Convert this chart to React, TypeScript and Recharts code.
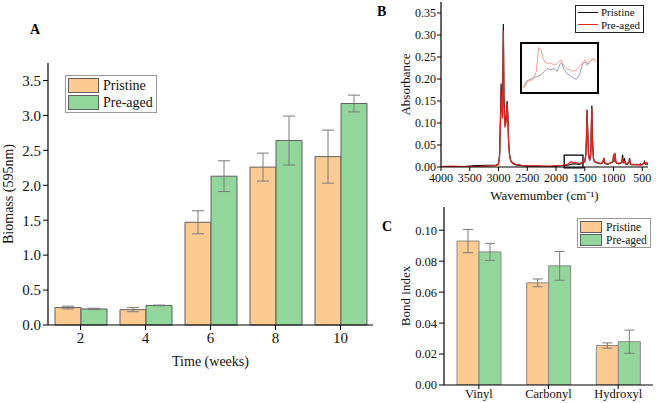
import React from 'react';
import {
  BarChart, Bar, XAxis, YAxis, ErrorBar, LineChart, Line, ReferenceArea,
} from 'recharts';

// ---------- Panel A: biomass ----------
const weeks = ['2', '4', '6', '8', '10'];
const biomassPristine = [0.25, 0.22, 1.47, 2.26, 2.41];
const biomassPristineErr = [0.02, 0.03, 0.165, 0.2, 0.38];
const biomassPreaged = [0.23, 0.28, 2.13, 2.64, 3.17];
const biomassPreagedErr = [0.01, 0.005, 0.22, 0.35, 0.12];
const biomassTicks = [0, 0.5, 1, 1.5, 2, 2.5, 3, 3.5];

// ---------- Panel B: FTIR spectra ----------
const wavenumbers = [4000, 3800, 3600, 3400, 3200, 3050, 3000, 2980, 2965, 2955, 2945, 2930, 2916, 2905, 2890, 2875, 2865, 2850, 2838, 2825, 2810, 2790, 2750, 2700, 2600, 2500, 2300, 2100, 2000, 1900, 1800, 1740, 1700, 1650, 1600, 1550, 1500, 1480, 1470, 1460, 1450, 1435, 1415, 1395, 1385, 1376, 1368, 1350, 1330, 1300, 1255, 1220, 1185, 1167, 1150, 1100, 1045, 1010, 997, 985, 973, 960, 940, 900, 870, 855, 841, 830, 808, 790, 760, 730, 720, 705, 650, 600, 560, 530, 500, 470, 460, 440, 420, 400];
const absPristine = [0.001, 0.001, 0.001, 0.003, 0.004, 0.004, 0.006, 0.03, 0.12, 0.19, 0.14, 0.12, 0.325, 0.16, 0.10, 0.10, 0.12, 0.15, 0.12, 0.06, 0.03, 0.015, 0.008, 0.005, 0.003, 0.002, 0.002, 0.001, 0.002, 0.003, 0.004, 0.006, 0.007, 0.007, 0.006, 0.008, 0.012, 0.03, 0.07, 0.13, 0.09, 0.03, 0.015, 0.03, 0.10, 0.14, 0.07, 0.02, 0.012, 0.01, 0.009, 0.007, 0.01, 0.02, 0.008, 0.006, 0.01, 0.012, 0.028, 0.012, 0.03, 0.012, 0.008, 0.007, 0.009, 0.012, 0.028, 0.01, 0.018, 0.007, 0.006, 0.012, 0.02, 0.006, 0.005, 0.006, 0.005, 0.007, 0.005, 0.01, 0.013, 0.006, 0.008, 0.005];
const absPreaged = [0.001, 0.002, 0.001, 0.001, 0.002, 0.003, 0.005, 0.025, 0.11, 0.175, 0.13, 0.11, 0.31, 0.15, 0.09, 0.095, 0.11, 0.145, 0.115, 0.06, 0.03, 0.015, 0.009, 0.006, 0.004, 0.003, 0.002, 0.002, 0.003, 0.004, 0.006, 0.012, 0.01, 0.01, 0.008, 0.01, 0.012, 0.028, 0.065, 0.128, 0.085, 0.03, 0.015, 0.028, 0.095, 0.133, 0.065, 0.02, 0.012, 0.011, 0.009, 0.008, 0.012, 0.021, 0.009, 0.007, 0.009, 0.012, 0.03, 0.013, 0.032, 0.013, 0.009, 0.009, 0.01, 0.012, 0.02, 0.009, 0.012, 0.007, 0.008, 0.011, 0.018, 0.006, 0.006, 0.005, 0.006, 0.004, 0.006, 0.008, 0.011, 0.007, 0.01, 0.006];
const spectrumTicks = [4000, 3500, 3000, 2500, 2000, 1500, 1000, 500];
const absTicks = [0, 0.05, 0.1, 0.15, 0.2, 0.25, 0.3, 0.35];

// inset (zoom of ~1850-1530 cm-1), relative units
const insetWavenumbers = [1843, 1830, 1823, 1816, 1802, 1789, 1782, 1779, 1768, 1761, 1755, 1752, 1741, 1727, 1714, 1700, 1687, 1684, 1680, 1673, 1659, 1632, 1618, 1605, 1591, 1580, 1571, 1557, 1544, 1534];
const insetPreaged = [0.08, null, 0.23, null, 0.26, 0.43, null, 0.93, 0.86, 0.72, null, 0.62, 0.59, 0.61, 0.56, 0.59, null, 0.67, null, 0.56, 0.49, 0.43, 0.46, 0.53, 0.62, 0.67, 0.59, 0.66, 0.69, 0.63];
const insetPristine = [0.10, 0.23, null, 0.26, 0.30, null, 0.33, null, 0.36, null, 0.43, null, 0.49, 0.46, 0.49, 0.43, 0.59, null, 0.62, 0.49, 0.39, 0.30, 0.26, 0.36, 0.59, 0.62, 0.56, 0.66, 0.69, 0.63];

// ---------- Panel C: bond index ----------
const bonds = ['Vinyl', 'Carbonyl', 'Hydroxyl'];
const bondPristine = [0.093, 0.066, 0.0255];
const bondPristineErr = [0.0075, 0.0025, 0.0017];
const bondPreaged = [0.086, 0.077, 0.028];
const bondPreagedErr = [0.0055, 0.0093, 0.0075];
const bondTicks = [0, 0.02, 0.04, 0.06, 0.08, 0.1];

const seriesNames = ['Pristine', 'Pre-aged'];

const biomassData = weeks.map((w, i) => ({
  week: w, p: biomassPristine[i], pe: biomassPristineErr[i], g: biomassPreaged[i], ge: biomassPreagedErr[i],
}));
const bondData = bonds.map((b, i) => ({
  bond: b, p: bondPristine[i], pe: bondPristineErr[i], g: bondPreaged[i], ge: bondPreagedErr[i],
}));
const spectrumData = wavenumbers.map((w, i) => ({ wn: w, p: absPristine[i], g: absPreaged[i] }));
const insetData = insetWavenumbers.map((w, i) => ({ wn: w, p: insetPristine[i], g: insetPreaged[i] }));

const FONT = '"Liberation Serif", "Times New Roman", serif';
const ORANGE = '#FDCA92';
const GREEN = '#93D69B';
const BAR_STROKE = '#5f5f5f';
const ERR = '#7a7a7a';
const RED = '#E8231C';

const axisLine = { stroke: '#000', strokeWidth: 1.2 };
const tickLine = { stroke: '#000', strokeWidth: 1 };

function BarLegend({ left, top, swW, swH, fontSize, rowH, gap }: any) {
  const colors = [ORANGE, GREEN];
  return (
    <div style={{
      position: 'absolute', left, top, border: '1px solid #9a9a9a', background: '#fff',
      fontFamily: FONT, fontSize, color: '#111', padding: '1px 3px 1px 2px', boxSizing: 'border-box', whiteSpace: 'nowrap',
    }}>
      {seriesNames.map((n, i) => (
        <div key={n} style={{ display: 'flex', alignItems: 'center', height: rowH }}>
          <div style={{ width: swW, height: swH, background: colors[i], border: `1px solid ${BAR_STROKE}`, boxSizing: 'border-box', marginRight: gap, flex: 'none' }} />
          <span>{n}</span>
        </div>
      ))}
    </div>
  );
}

export default function App() {
  return (
    <div style={{ position: 'absolute', left: 0, top: 0, width: 656, height: 403, background: '#fff', overflow: 'hidden', fontFamily: FONT }}>
      {/* Panel letters */}
      <div style={{ position: 'absolute', left: 30, top: 22, fontWeight: 'bold', fontSize: 14 }}>A</div>
      <div style={{ position: 'absolute', left: 377, top: 4, fontWeight: 'bold', fontSize: 14 }}>B</div>
      <div style={{ position: 'absolute', left: 382, top: 219, fontWeight: 'bold', fontSize: 14 }}>C</div>

      {/* Panel A */}
      <div style={{ position: 'absolute', left: 0, top: 0 }}>
        <BarChart width={400} height={403} data={biomassData} margin={{ top: 63, right: 27, bottom: 6, left: 0 }} barGap={0} barSize={26}>
          <XAxis dataKey="week" height={72} axisLine={axisLine} tickLine={tickLine} tickSize={5} tickMargin={2}
            tick={{ fill: '#111', fontSize: 15, fontFamily: FONT }}
            label={{ value: 'Time (weeks)', position: 'center', fill: '#111', fontSize: 14, fontFamily: FONT }} />
          <YAxis width={48} domain={[0, 3.75]} ticks={biomassTicks} axisLine={axisLine} tickLine={tickLine} tickSize={5} tickMargin={2}
            tickFormatter={(v: number) => v.toFixed(1)} tick={{ fill: '#111', fontSize: 15, fontFamily: FONT }}
            label={{ value: 'Biomass (595nm)', angle: -90, position: 'center', dx: -16, fill: '#111', fontSize: 14, fontFamily: FONT }} />
          <Bar dataKey="p" fill={ORANGE} stroke={BAR_STROKE} strokeWidth={1} isAnimationActive={false}>
            <ErrorBar dataKey="pe" width={6} stroke={ERR} strokeWidth={1} direction="y" />
          </Bar>
          <Bar dataKey="g" fill={GREEN} stroke={BAR_STROKE} strokeWidth={1} isAnimationActive={false}>
            <ErrorBar dataKey="ge" width={6} stroke={ERR} strokeWidth={1} direction="y" />
          </Bar>
        </BarChart>
      </div>
      <BarLegend left={65} top={75} swW={31} swH={15} fontSize={14} rowH={17} gap={4} />

      {/* Panel B */}
      <div style={{ position: 'absolute', left: 360, top: 0 }}>
        <LineChart width={296} height={222} data={spectrumData} margin={{ top: 2, right: 8, bottom: 3, left: 23 }}>
          <XAxis dataKey="wn" type="number" domain={[400, 4000]} reversed ticks={spectrumTicks} allowDataOverflow interval={0}
            height={52} axisLine={axisLine} tickLine={tickLine} tickSize={4} tickMargin={2}
            tick={{ fill: '#111', fontSize: 12, fontFamily: FONT }}
            label={{ value: 'Wavemumber (cm⁻¹)', position: 'center', dy: 2, fill: '#111', fontSize: 13, fontFamily: FONT }} />
          <YAxis width={58} domain={[0, 0.375]} ticks={absTicks} allowDataOverflow axisLine={axisLine} tickLine={tickLine} tickSize={4} tickMargin={1}
            tickFormatter={(v: number) => v.toFixed(2)} tick={{ fill: '#111', fontSize: 12, fontFamily: FONT }}
            label={{ value: 'Absorbance', angle: -90, position: 'center', dx: -7, fill: '#111', fontSize: 13, fontFamily: FONT }} />
          <Line dataKey="p" stroke="#111" strokeWidth={1.2} dot={false} isAnimationActive={false} />
          <Line dataKey="g" stroke={RED} strokeWidth={1.2} dot={false} isAnimationActive={false} />
          <ReferenceArea x1={1857} x2={1531} y1={-0.002} y2={0.027} stroke="#000" strokeWidth={1.3} fill="none" fillOpacity={0} ifOverflow="visible" />
        </LineChart>
      </div>
      {/* inset */}
      <div style={{ position: 'absolute', left: 520, top: 42, width: 79, height: 52, border: '2px solid #000', boxSizing: 'border-box', background: '#fff' }}>
        <LineChart width={75} height={48} data={insetData} margin={{ top: 0, right: 0, bottom: 0, left: 0 }}>
          <XAxis dataKey="wn" type="number" domain={[1530, 1850]} reversed hide />
          <YAxis domain={[0, 1]} hide />
          <Line dataKey="p" stroke="#9A9AB4" strokeWidth={1} dot={false} connectNulls isAnimationActive={false} />
          <Line dataKey="g" stroke="#F3A08F" strokeWidth={1} dot={false} connectNulls isAnimationActive={false} />
        </LineChart>
      </div>
      {/* legend B */}
      <div style={{ position: 'absolute', left: 575, top: 5, width: 69, height: 28, border: '1px solid #222', boxSizing: 'border-box', background: '#fff', fontFamily: FONT, fontSize: 11, color: '#111', padding: '0 2px', whiteSpace: 'nowrap' }}>
        {seriesNames.map((n, i) => (
          <div key={n} style={{ display: 'flex', alignItems: 'center', height: 12.5 }}>
            <div style={{ width: 20, height: 0, borderTop: `1.3px solid ${i === 0 ? '#111' : RED}`, marginRight: 3, flex: 'none' }} />
            <span>{n}</span>
          </div>
        ))}
      </div>

      {/* Panel C */}
      <div style={{ position: 'absolute', left: 360, top: 200 }}>
        <BarChart width={296} height={203} data={bondData} margin={{ top: 7, right: 3, bottom: 0, left: 26 }} barGap={0} barSize={22}>
          <XAxis dataKey="bond" height={18} axisLine={axisLine} tickLine={tickLine} tickSize={4} tickMargin={0} interval={0}
            tick={{ fill: '#111', fontSize: 12.5, fontFamily: FONT }} />
          <YAxis width={58} domain={[0, 0.115]} ticks={bondTicks} allowDataOverflow axisLine={axisLine} tickLine={tickLine} tickSize={5} tickMargin={2}
            tickFormatter={(v: number) => v.toFixed(2)} tick={{ fill: '#111', fontSize: 12.5, fontFamily: FONT }}
            label={{ value: 'Bond index', angle: -90, position: 'center', dx: -10, fill: '#111', fontSize: 13, fontFamily: FONT }} />
          <Bar dataKey="p" fill={ORANGE} stroke="#8a8a8a" strokeWidth={1} isAnimationActive={false}>
            <ErrorBar dataKey="pe" width={5} stroke={ERR} strokeWidth={1} direction="y" />
          </Bar>
          <Bar dataKey="g" fill={GREEN} stroke="#8a8a8a" strokeWidth={1} isAnimationActive={false}>
            <ErrorBar dataKey="ge" width={5} stroke={ERR} strokeWidth={1} direction="y" />
          </Bar>
        </BarChart>
      </div>
      <BarLegend left={577} top={218} swW={22} swH={12} fontSize={11.5} rowH={13} gap={4} />
    </div>
  );
}
